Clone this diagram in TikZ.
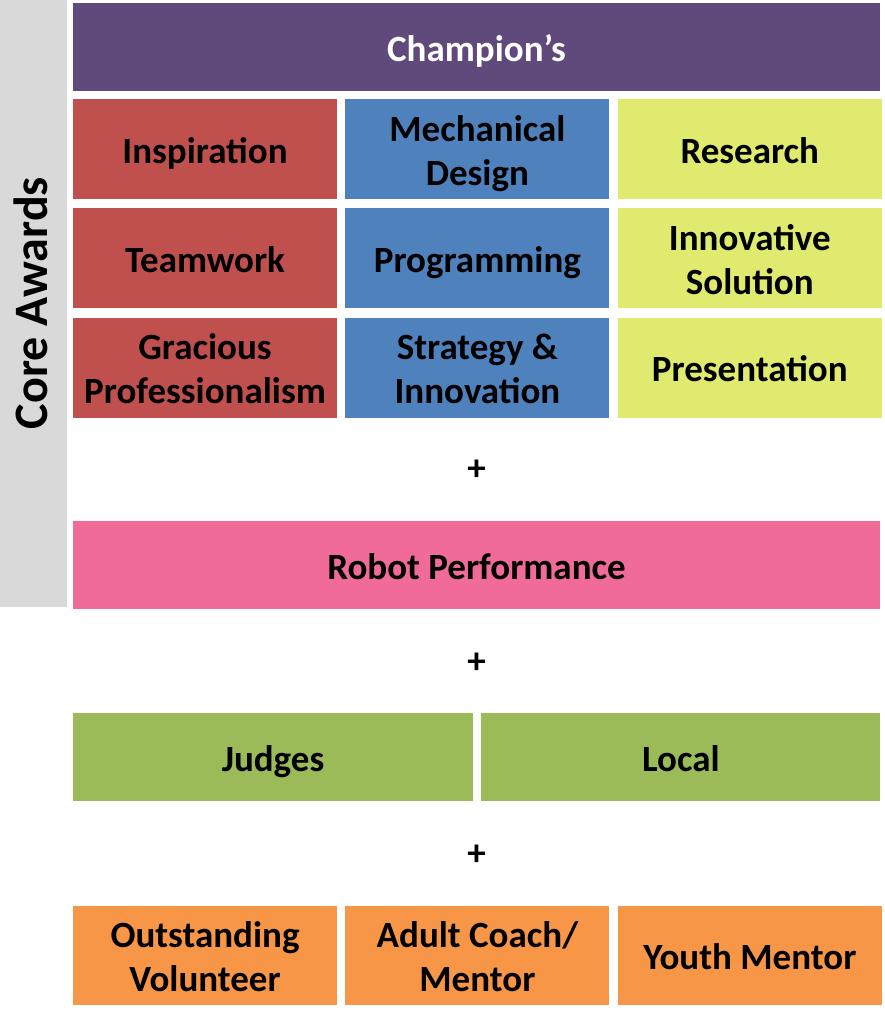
\documentclass[tikz,border=0pt]{standalone}
\usepackage{fontspec}
\setmainfont{Carlito}
\usepackage{tikz}
\usetikzlibrary{positioning}
\definecolor{champ}{HTML}{604A7B}
\definecolor{core}{HTML}{C0504D}
\definecolor{tech}{HTML}{4F81BD}
\definecolor{proj}{HTML}{E0EA6F}
\definecolor{robot}{HTML}{F06A9A}
\definecolor{judge}{HTML}{9BBB59}
\definecolor{volun}{HTML}{F79646}
\definecolor{side}{HTML}{D9D9D9}
\newcommand\lstrut{\rule[-8pt]{0pt}{44pt}}
\newcommand\twolines[2]{\rule[-8pt]{0pt}{44pt}#1\\#2\rule[-8pt]{0pt}{44pt}}
\begin{document}
\begin{tikzpicture}[x=1pt, y=1pt, award/.style = {inner sep=0, align=center, font=\fontsize{37}{44}\selectfont\bfseries}, cell/.style = {award, minimum width=264pt, minimum height=100pt}, band/.style = {award, minimum width=807pt, minimum height=88pt}, plus/.style = {font=\fontsize{37}{44}\selectfont\bfseries}, node distance=8pt]
\useasboundingbox (0,0) rectangle (885,-1010);
\fill[side] (0,0) rectangle (67,-607);
\node[rotate=90, font=\fontsize{48}{56}\selectfont\bfseries] (core) at (31,-303) {Core Awards};
\node[band, fill=champ, text=white] (champ) at (476.5,-47) {\lstrut Champion’s};
\node[cell, fill=core] (insp) at (205,-149) {\lstrut Inspiration};
\node[cell, fill=tech] (mech) [right=of insp] {\twolines{Mechanical}{Design}};
\node[cell, fill=proj] (res) [right=of mech] {\lstrut Research};
\node[cell, fill=core] (team) [below=9pt of insp] {\lstrut Teamwork};
\node[cell, fill=tech] (prog) [right=of team] {\lstrut Programming};
\node[cell, fill=proj] (innov) [right=of prog] {\twolines{Innovative}{Solution}};
\node[cell, fill=core] (gp) [below=9pt of team] {\twolines{Gracious}{Professionalism}};
\node[cell, fill=tech] (strat) [right=of gp] {\twolines{Strategy \&}{Innovation}};
\node[cell, fill=proj] (pres) [right=of strat] {\lstrut Presentation};
\node[plus] (p1) at (476.5,-470) {+};
\node[band, fill=robot] (robot) at (476.5,-565) {\lstrut Robot Performance};
\node[plus] (p2) at (476.5,-663) {+};
\node[award, fill=judge, minimum width=400pt, minimum height=88pt] (judges) at (273,-757) {\lstrut Judges};
\node[award, fill=judge, minimum width=399pt, minimum height=88pt] (local) [right=of judges] {\lstrut Local};
\node[plus] (p3) at (476.5,-855) {+};
\node[cell, fill=volun, minimum height=99pt] (vol) at (205,-955.5) {\twolines{Outstanding}{Volunteer}};
\node[cell, fill=volun, minimum height=99pt] (coach) [right=of vol] {\twolines{Adult Coach/}{Mentor}};
\node[cell, fill=volun, minimum height=99pt] (youth) [right=of coach] {\lstrut Youth Mentor};
\end{tikzpicture}
\end{document}
